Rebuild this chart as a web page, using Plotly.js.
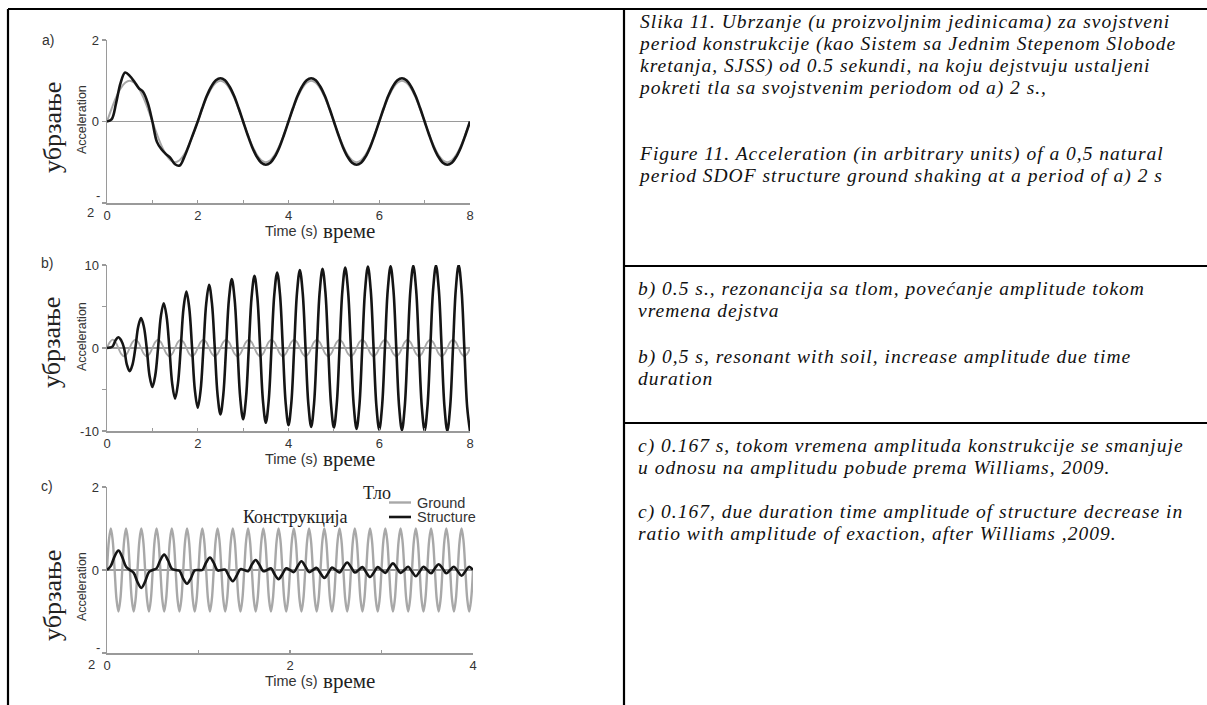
<!DOCTYPE html>
<html><head><meta charset="utf-8">
<script src="https://cdn.plot.ly/plotly-3.0.1.min.js"></script>
<style>html,body{margin:0;padding:0;background:#fff}#chart{width:1207px;height:705px}</style>
</head><body><div id="chart"></div>
<script>
// ---------- data ----------
// panel a: ground period 2 s, sampled every 0.1 s
const aStep = 0.1;
const aGround = [0,.31,.59,.81,.95,1,.95,.81,.59,.31,0,-.31,-.59,-.81,-.95,-1,-.95,-.81,-.59,-.31,
  0,.31,.59,.81,.95,1,.95,.81,.59,.31,0,-.31,-.59,-.81,-.95,-1,-.95,-.81,-.59,-.31,
  0,.31,.59,.81,.95,1,.95,.81,.59,.31,0,-.31,-.59,-.81,-.95,-1,-.95,-.81,-.59,-.31,
  0,.31,.59,.81,.95,1,.95,.81,.59,.31,0,-.31,-.59,-.81,-.95,-1,-.95,-.81,-.59,-.31,0];
const aStructure = [0,0.05,0.45,0.95,1.2,1.12,0.98,0.82,0.72,0.45,0,-0.5,-0.68,-0.8,-0.9,-1.05,-1.08,-0.88,-0.6,-0.3,
  0,.33,.63,.86,1.01,1.06,1.01,.86,.63,.33,0,-.33,-.63,-.86,-1.01,-1.06,-1.01,-.86,-.63,-.33,
  0,.33,.63,.86,1.01,1.06,1.01,.86,.63,.33,0,-.33,-.63,-.86,-1.01,-1.06,-1.01,-.86,-.63,-.33,
  0,.33,.63,.86,1.01,1.06,1.01,.86,.63,.33,0,-.33,-.63,-.86,-1.01,-1.06,-1.01,-.86,-.63,-.33,0];
// panel b: ground period 0.5 s, sampled every 0.0625 s
const bStep = 0.0625;
const bGround = [0,.71,1,.71,0,-.71,-1,-.71, 0,.71,1,.71,0,-.71,-1,-.71, 0,.71,1,.71,0,-.71,-1,-.71, 0,.71,1,.71,0,-.71,-1,-.71,
  0,.71,1,.71,0,-.71,-1,-.71, 0,.71,1,.71,0,-.71,-1,-.71, 0,.71,1,.71,0,-.71,-1,-.71, 0,.71,1,.71,0,-.71,-1,-.71,
  0,.71,1,.71,0,-.71,-1,-.71, 0,.71,1,.71,0,-.71,-1,-.71, 0,.71,1,.71,0,-.71,-1,-.71, 0,.71,1,.71,0,-.71,-1,-.71,
  0,.71,1,.71,0,-.71,-1,-.71, 0,.71,1,.71,0,-.71,-1,-.71, 0,.71,1,.71,0,-.71,-1,-.71, 0,.71,1,.71,0,-.71,-1,-.71, 0];
const bStructure = [0,0.05,0.2,0.92,1.3,0.92,0,
  -1.99,-2.8,-1.99,0, 2.56,3.6,2.56,0, -3.34,-4.7,-3.34,0, 3.83,5.4,3.83,0,
  -4.33,-6.1,-4.33,0, 4.83,6.8,4.83,0, -5.11,-7.2,-5.11,0, 5.4,7.6,5.4,0,
  -5.68,-8.0,-5.68,0, 5.89,8.3,5.89,0, -6.11,-8.6,-6.11,0, 6.18,8.7,6.18,0,
  -6.39,-9.0,-6.39,0, 6.46,9.1,6.46,0, -6.6,-9.3,-6.6,0, 6.67,9.4,6.67,0,
  -6.75,-9.5,-6.75,0, 6.78,9.55,6.78,0, -6.82,-9.6,-6.82,0, 6.89,9.7,6.89,0,
  -6.92,-9.75,-6.92,0, 6.96,9.8,6.96,0, -6.99,-9.85,-6.99,0, 6.99,9.85,6.99,0,
  -7.03,-9.9,-7.03,0, 7.03,9.9,7.03,0, -7.06,-9.95,-7.06,0, 7.06,9.95,7.06,0,
  -7.1,-10,-7.1,0, 7.1,10,7.1,0,
  -7.1,-10];
// panel c: ground period 0.167 s, sampled every 1/48 s; structure every 1/24 s
const cGroundStep = 1/48;
const cGround = [0,.71,1,.71,0,-.71,-1,-.71, 0,.71,1,.71,0,-.71,-1,-.71, 0,.71,1,.71,0,-.71,-1,-.71, 0,.71,1,.71,0,-.71,-1,-.71,
  0,.71,1,.71,0,-.71,-1,-.71, 0,.71,1,.71,0,-.71,-1,-.71, 0,.71,1,.71,0,-.71,-1,-.71, 0,.71,1,.71,0,-.71,-1,-.71,
  0,.71,1,.71,0,-.71,-1,-.71, 0,.71,1,.71,0,-.71,-1,-.71, 0,.71,1,.71,0,-.71,-1,-.71, 0,.71,1,.71,0,-.71,-1,-.71,
  0,.71,1,.71,0,-.71,-1,-.71, 0,.71,1,.71,0,-.71,-1,-.71, 0,.71,1,.71,0,-.71,-1,-.71, 0,.71,1,.71,0,-.71,-1,-.71,
  0,.71,1,.71,0,-.71,-1,-.71, 0,.71,1,.71,0,-.71,-1,-.71, 0,.71,1,.71,0,-.71,-1,-.71, 0,.71,1,.71,0,-.71,-1,-.71,
  0,.71,1,.71,0,-.71,-1,-.71, 0,.71,1,.71,0,-.71,-1,-.71, 0,.71,1,.71,0,-.71,-1,-.71, 0,.71,1,.71,0,-.71,-1,-.71, 0];
const cStructStep = 1/24;
const cStructure = [0,0.1,0.33,0.47,0.31,0.08,0,-0.07,-0.29,-0.43,-0.28,-0.05,
  0,0.04,0.24,0.37,0.23,0.03,0,-0.02,-0.21,-0.33,-0.2,-0.01,
  0,0,0.18,0.3,0.17,-0.01,0,0.01,-0.15,-0.27,-0.14,0.02,
  0,-0.03,0.13,0.24,0.12,-0.03,0,0.04,-0.11,-0.22,-0.1,0.04,
  0,-0.05,0.09,0.21,0.09,-0.05,0,0.05,-0.08,-0.19,-0.08,0.06,
  0,-0.06,0.07,0.18,0.07,-0.06,0,0.07,-0.06,-0.17,-0.06,0.07,
  0,-0.07,0.05,0.16,0.05,-0.07,0,0.08,-0.04,-0.15,-0.04,0.08,
  0,-0.08,0.04,0.14,0.04,-0.08,0,0.08,-0.03,-0.14,-0.03,0.08,0];

const xTicks8 = [0,1,2,3,4,5,6,7,8];
const xLabels8 = ['0','','2','','4','','6','','8'];
const xTicks4 = [0,1,2,3,4];
const xLabels4 = ['0','','2','','4'];
const yTicks2 = [-2,0,2];
const yLabels2 = ['','0','2'];
const yTicks10 = [-10,-5,0,5,10];
const yLabels10 = ['-10','','0','','10'];
const legendNames = ['Ground','Structure'];

const captionParagraphs = [
  ['Slika 11. Ubrzanje (u proizvoljnim jedinicama) za svojstveni',
   'period konstrukcije (kao Sistem sa Jednim Stepenom Slobode',
   'kretanja, SJSS) od 0.5 sekundi, na koju dejstvuju ustaljeni',
   'pokreti tla sa svojstvenim periodom od a) 2 s.,'],
  ['Figure 11. Acceleration (in arbitrary units) of a 0,5 natural',
   'period SDOF structure ground shaking at a period of a) 2 s'],
  ['b) 0.5 s., rezonancija sa tlom, povećanje amplitude tokom',
   'vremena dejstva'],
  ['b) 0,5 s, resonant with soil, increase amplitude due time',
   'duration'],
  ['c) 0.167 s, tokom vremena amplituda konstrukcije se smanjuje',
   'u odnosu na amplitudu pobude prema Williams, 2009.'],
  ['c) 0.167, due duration time amplitude of structure decrease in',
   'ratio with amplitude of exaction, after Williams ,2009.']
];
const captionFirstLineY = [22,154,289,356,445,511];

// ---------- layout helpers ----------
const W = 1207, H = 705;
const px = x => x / W;
const py = y => 1 - y / H;
const times = (arr, step) => arr.map((_, i) => +(i * step).toFixed(4));

const SANS = 'Liberation Sans, Arial, sans-serif';
const SERIF = 'Liberation Serif, Times New Roman, serif';
const GREY = '#a8a8a8', BLACK = '#151515', AXIS = '#9a9a9a';

const traces = [
  {x: times(aGround, aStep), y: aGround, xaxis:'x', yaxis:'y', mode:'lines', line:{color:GREY, width:2, shape:'spline'}, showlegend:false, name:legendNames[0]},
  {x: times(aStructure, aStep), y: aStructure, xaxis:'x', yaxis:'y', mode:'lines', line:{color:BLACK, width:2.6, shape:'spline'}, showlegend:false, name:legendNames[1]},
  {x: times(bGround, bStep), y: bGround, xaxis:'x2', yaxis:'y2', mode:'lines', line:{color:GREY, width:1.8, shape:'spline'}, showlegend:false, name:legendNames[0]},
  {x: times(bStructure, bStep), y: bStructure, xaxis:'x2', yaxis:'y2', mode:'lines', line:{color:BLACK, width:2.6, shape:'spline'}, showlegend:false, name:legendNames[1]},
  {x: times(cGround, cGroundStep), y: cGround, xaxis:'x3', yaxis:'y3', mode:'lines', line:{color:GREY, width:2.4, shape:'spline'}, showlegend:false, name:legendNames[0]},
  {x: times(cStructure, cStructStep), y: cStructure, xaxis:'x3', yaxis:'y3', mode:'lines', line:{color:BLACK, width:2.6, shape:'spline'}, showlegend:false, name:legendNames[1]}
];

const tickFont = {family: SANS, size: 13, color: '#333'};
function xAx(domainPx, range, tv, tt, anchor) {
  return {domain:[px(domainPx[0]), px(domainPx[1])], range: range, anchor: anchor,
    showline:true, linecolor:AXIS, linewidth:1.5, showgrid:false, zeroline:false,
    ticks:'inside', ticklen:3, tickcolor:AXIS, tickwidth:1.2,
    tickmode:'array', tickvals: tv, ticktext: tt, tickfont: tickFont, fixedrange:true};
}
function yAx(domainPx, range, tv, tt, anchor) {
  return {domain:[py(domainPx[1]), py(domainPx[0])], range: range, anchor: anchor,
    showline:true, linecolor:AXIS, linewidth:1.5, showgrid:false,
    zeroline:true, zerolinecolor:AXIS, zerolinewidth:1.5,
    ticks:'outside', ticklen:4, tickcolor:AXIS, tickwidth:1.2,
    tickmode:'array', tickvals: tv, ticktext: tt, tickfont: tickFont, fixedrange:true};
}

const ann = [];
function txt(text, x, y, font, opts) {
  ann.push(Object.assign({text: text, x: px(x), y: py(y), xref:'paper', yref:'paper',
    showarrow:false, xanchor:'center', yanchor:'middle', font: font}, opts || {}));
}
const small = {family: SANS, size: 14, color: '#333'};
const tickF = {family: SANS, size: 13, color: '#333'};
const timeSerif = {family: SERIF, size: 21, color: '#222'};
const legSerif = {family: SERIF, size: 18, color: '#222'};
const ySerif = {family: SERIF, size: 26, color: '#222'};
const sans15 = {family: SANS, size: 14.5, color: '#333'};

// panel labels
txt('a)', 48, 40, small); txt('b)', 47, 263, small); txt('c)', 47, 486, small);
// broken "-2" labels
txt('-', 98, 196, tickF); txt('2', 90, 212, tickF);
txt('-', 98, 647, tickF); txt('2', 91, 664, tickF);
// y titles
[[128,120],[343,337],[596,587]].forEach(p => {
  txt('убрзање', 52, p[0], ySerif, {textangle:-90});
  txt('Acceleration', 82, p[1], {family: SANS, size: 12.5, color:'#333'}, {textangle:-90});
});
// x titles
[231,459,681].forEach(y => {
  txt('Time (s)', 291, y, sans15);
  txt('време', 349, y, timeSerif);
});
// legend (panel c)
txt('Тло', 377, 493, legSerif);
txt('Конструкција', 295, 517, legSerif);
txt(legendNames[0], 415, 502.5, sans15, {xanchor:'left'});
txt(legendNames[1], 415, 517, sans15, {xanchor:'left'});

// caption text: line spacing 22 px (base font 17 x 1.3)
const LINE = 22;
captionParagraphs.forEach((lines, i) => {
  const body = lines.map(s => '<span style="font-size:19.5px;letter-spacing:1px"><i>' + s + '</i></span>').join('<br>');
  const yMid = captionFirstLineY[i] + (lines.length - 1) * LINE / 2;
  txt(body, 636, yMid, {family: SERIF, size: 17, color:'#111'}, {xanchor:'left', align:'left'});
});

const lineShape = (x0, y0, x1, y1, color, width) => ({type:'line', xref:'paper', yref:'paper',
  x0: px(x0), y0: py(y0), x1: px(x1), y1: py(y1), line:{color: color, width: width}});
const shapes = [
  lineShape(8, 9, 1207, 9, '#000', 2.2),
  lineShape(8, 9, 8, 705, '#000', 2.2),
  lineShape(624, 9, 624, 705, '#000', 2.2),
  lineShape(624, 266, 1207, 266, '#000', 2.2),
  lineShape(624, 423, 1207, 423, '#000', 2.2),
  lineShape(389, 502.5, 411, 502.5, GREY, 2.4),
  lineShape(389, 517, 411, 517, BLACK, 2.6)
];

const layout = {
  width: W, height: H, margin:{l:0,r:0,t:0,b:0},
  paper_bgcolor:'#fff', plot_bgcolor:'#fff', showlegend:false,
  xaxis: xAx([107,470],[0,8], xTicks8, xLabels8, 'y'),
  yaxis: yAx([40,203],[-2,2], yTicks2, yLabels2, 'x'),
  xaxis2: xAx([107,470],[0,8], xTicks8, xLabels8, 'y2'),
  yaxis2: yAx([265,431],[-10,10], yTicks10, yLabels10, 'x2'),
  xaxis3: xAx([107,473],[0,4], xTicks4, xLabels4, 'y3'),
  yaxis3: yAx([487,653],[-2,2], yTicks2, yLabels2, 'x3'),
  annotations: ann, shapes: shapes
};
Plotly.newPlot('chart', traces, layout, {staticPlot:true, displayModeBar:false});
</script></body></html>
